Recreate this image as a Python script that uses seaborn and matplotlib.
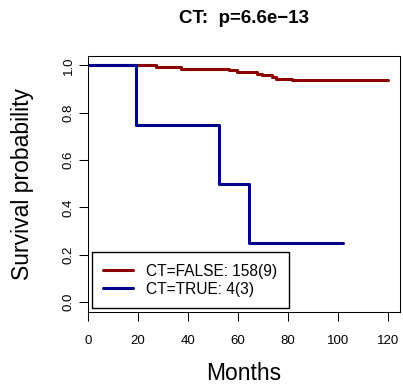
import matplotlib
matplotlib.use('Agg')
import matplotlib.pyplot as plt
import seaborn as sns
import pandas as pd

# Kaplan-Meier curves
false_months = [0, 27, 37, 56.5, 59.5, 67.5, 69.5, 73.5, 75, 81.5, 120]
false_surv = [1.0, 0.993, 0.986, 0.979, 0.972, 0.965, 0.958, 0.951, 0.944, 0.937, 0.937]
true_months = [0, 19, 52.5, 64.5, 102]
true_surv = [1.0, 0.75, 0.5, 0.25, 0.25]

group_names = ['CT=FALSE', 'CT=TRUE']
legend_labels = ['CT=FALSE: 158(9)', 'CT=TRUE: 4(3)']
x_ticks = [0, 20, 40, 60, 80, 100, 120]
y_ticks = [0.0, 0.2, 0.4, 0.6, 0.8, 1.0]
title = 'CT:  p=6.6e\u221213'

df = pd.concat([
    pd.DataFrame({'months': false_months, 'surv': false_surv, 'group': group_names[0]}),
    pd.DataFrame({'months': true_months, 'surv': true_surv, 'group': group_names[1]}),
], ignore_index=True)

sns.set_theme(style='white')
plt.rcParams['font.family'] = ['Liberation Sans', 'DejaVu Sans']
plt.rcParams['text.color'] = 'black'
plt.rcParams['axes.labelcolor'] = 'black'

fig = plt.figure(figsize=(4.03, 3.9), dpi=100)
ax = fig.add_axes([0.2184, 0.2008, 0.7742, 0.6564])

sns.lineplot(data=df, x='months', y='surv', hue='group', hue_order=group_names,
             palette=['#8B0000', '#00008B'], estimator=None, sort=False,
             drawstyle='steps-post', linewidth=2.2, ax=ax)

ax.set_xlim(0, 124.8)
ax.set_ylim(-0.041, 1.041)
ax.set_xticks(x_ticks)
ax.set_yticks(y_ticks)
ax.set_yticklabels([f'{v:.1f}' for v in y_ticks], rotation=90, va='center')
ax.tick_params(axis='both', which='major', direction='out', length=6.5, width=0.75,
               color='black', labelsize=9.5, labelcolor='black',
               bottom=True, left=True)
ax.tick_params(axis='x', pad=10.5)
ax.tick_params(axis='y', pad=3.2)
for s in ax.spines.values():
    s.set_color('black')
    s.set_linewidth(0.75)

ax.set_xlabel('Months', fontsize=16.5, va='center')
ax.set_ylabel('Survival probability', fontsize=16.5, va='center')
ax.xaxis.set_label_coords(0.5, -0.243)
ax.yaxis.set_label_coords(-0.2115, 0.5)
fig.text(0.605, 0.952, title, ha='center', va='center', fontsize=13.5,
         fontweight='bold', color='black')

handles, _ = ax.get_legend_handles_labels()
leg = ax.legend(handles, legend_labels, loc='lower left', bbox_to_anchor=(0.012, 0.013),
                borderaxespad=0, fontsize=11.2, handlelength=1.9, handletextpad=0.85,
                labelspacing=0.2, borderpad=0.75, frameon=True, fancybox=False,
                edgecolor='black', framealpha=1)
leg.get_frame().set_linewidth(1.0)
for t in leg.get_texts():
    t.set_color('black')

fig.savefig('out.png', dpi=100)
